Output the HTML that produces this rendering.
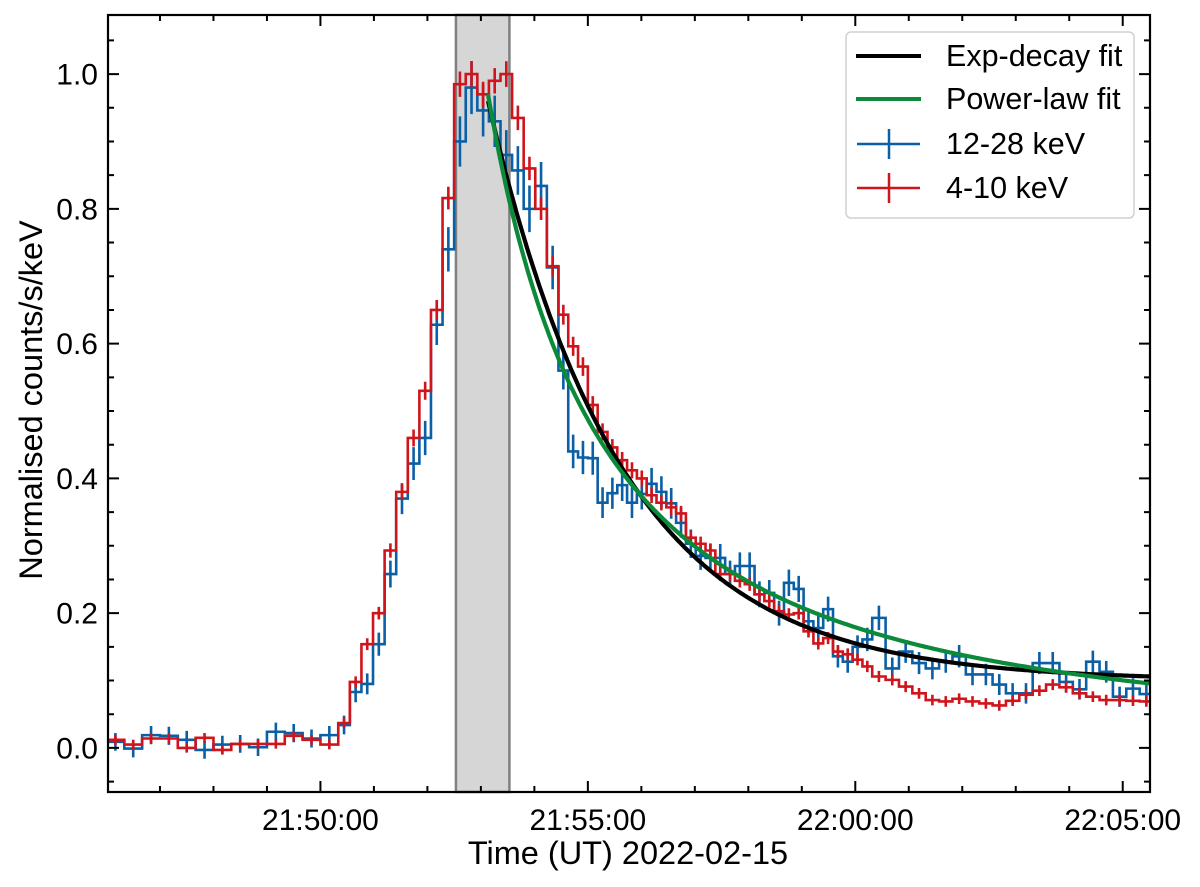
<!DOCTYPE html>
<html><head><meta charset="utf-8"><style>
html,body{margin:0;padding:0;background:#fff;}
svg{display:block;font-family:"Liberation Sans",Arial,sans-serif;}
</style></head><body>
<svg id="chart" width="1200" height="887" viewBox="0 0 1200 887" xmlns="http://www.w3.org/2000/svg">
<defs><clipPath id="plotclip"><rect x="108" y="15" width="1042" height="777"/></clipPath></defs>
<g id="span"></g>
<g id="series" clip-path="url(#plotclip)"></g>
<g id="axes"></g>
<g id="legend">
  <rect x="846" y="32" width="288" height="186" rx="5" fill="#fff" fill-opacity="0.85" stroke="#d0d0d0" stroke-width="1.5"/>
  <g>
    <line x1="856" y1="56" x2="921" y2="56" stroke="#000" stroke-width="4"/>
    <text x="946" y="66" font-size="30.5">Exp-decay fit</text></g>
  <g>
    <line x1="856" y1="99" x2="921" y2="99" stroke="#0b8a3a" stroke-width="4"/>
    <text x="946" y="109" font-size="30.5">Power-law fit</text></g>
  <g>
    <line x1="857" y1="144" x2="920" y2="144" stroke="#0b5fa5" stroke-width="2.5"/>
    <line x1="889" y1="129" x2="889" y2="159" stroke="#0b5fa5" stroke-width="2.5"/>
    <text x="946" y="154" font-size="30.5">12-28 keV</text></g>
  <g>
    <line x1="857" y1="188" x2="920" y2="188" stroke="#d0141c" stroke-width="2.5"/>
    <line x1="889" y1="173" x2="889" y2="203" stroke="#d0141c" stroke-width="2.5"/>
    <text x="946" y="198" font-size="30.5">4-10 keV</text></g>
</g>
</svg>
<script>
// bin segments (seconds since 21:46:00)
const segStarts = [0, 260, 507, 859];
const segWidths = [20, 13, 11, 15];
const segCounts = [13, 19, 32, 21];
const redValues = [
 .012,.005,.014,.014,.0,.015,-.003,.006,.006,.006,.018,.012,.005,
 .037,.098,.154,.20,.293,.38,.46,.53,.65,.816,.985,1.0,.97,.99,1.0,.935,.86,.80,.715,
 .643,.596,.566,.509,.469,.446,.427,.412,.40,.375,.364,.357,.348,.312,.303,.293,.258,.258,.248,.243,.228,.218,.203,.198,.2,.173,.155,.163,.143,.139,.131,.121,
 .106,.101,.091,.081,.071,.069,.073,.069,.066,.063,.07,.079,.085,.094,.09,.081,.076,.071,.071,.07,.069];
const blueValues = [
 .009,-.001,.019,.018,.012,-.003,.005,.006,.001,.024,.022,.014,.019,
 .034,.083,.095,.154,.258,.37,.422,.46,.628,.74,.90,.98,.946,.93,.88,.857,.80,.834,.713,
 .56,.44,.431,.43,.364,.378,.39,.364,.377,.392,.38,.363,.334,.303,.285,.282,.282,.258,.27,.27,.228,.23,.2,.245,.236,.188,.178,.206,.136,.128,.15,.161,
 .193,.118,.143,.126,.118,.128,.136,.109,.109,.094,.081,.081,.126,.126,.098,.087,.128,.113,.076,.088,.08];
const spanTimes = [392, 452];
const expParams = [0.86, 150, 0.10, 428];   // A, tau, c, t0
const powParams = [0.97, 250, 1.41, 428];   // f(t0), t1, index, t0
const fitEnd = 1175;
const xTickTimes = [240, 540, 840, 1140];
const xTickLabels = ["21:50:00","21:55:00","22:00:00","22:05:00"];
const yTickValues = [0, 0.2, 0.4, 0.6, 0.8, 1.0];
const yTickLabels = ["0.0","0.2","0.4","0.6","0.8","1.0"];

const L=108,R=1150,T=15,B=792;
const tMin=1.7, tMax=1170.6, vMin=-0.0654, vMax=1.0877;
const X=t=>L+(t-tMin)/(tMax-tMin)*(R-L);
const Y=v=>B-(v-vMin)/(vMax-vMin)*(B-T);
const NS="http://www.w3.org/2000/svg";
function mk(tag,attrs,parent){const e=document.createElementNS(NS,tag);for(const k in attrs)e.setAttribute(k,attrs[k]);parent.appendChild(e);return e;}

const sg=document.getElementById('span');
const sr=mk('rect',{x:X(spanTimes[0]),y:T,width:X(spanTimes[1])-X(spanTimes[0]),height:B-T,fill:'#d6d6d6',stroke:'#808080','stroke-width':2.5},sg);



const edges=[];
segStarts.forEach((s,i)=>{for(let k=0;k<segCounts[i];k++)edges.push(s+k*segWidths[i]);});
edges.push(segStarts[3]+segCounts[3]*segWidths[3]);

const ser=document.getElementById('series');
function drawHist(vals,color,errFn,name){
  const g=mk('g',{},ser);
  
  
  let d='M'+X(edges[0])+' '+Y(vals[0]);
  for(let i=0;i<vals.length;i++){
    if(i>0)d+=' V'+Y(vals[i]);
    d+=' H'+X(edges[i+1]);
  }
  const p=mk('path',{d:d,fill:'none',stroke:color,'stroke-width':2.6},g);
  
  
  let ed='';
  for(let i=0;i<vals.length;i++){
    const c=X((edges[i]+edges[i+1])/2),e=errFn(vals[i]);
    ed+='M'+c+' '+Y(vals[i]-e)+' V'+Y(vals[i]+e)+' ';
  }
  const eb=mk('path',{d:ed,fill:'none',stroke:color,'stroke-width':2.6},g);
  
  
}
drawHist(blueValues,'#0b5fa5',v=>0.013+0.027*Math.max(v,0),'series-12-28kev');
drawHist(redValues,'#d0141c',v=>0.007+0.012*Math.max(v,0),'series-4-10kev');

function drawFit(fn,color,name){
  let d='';
  for(let t=expParams[3];t<=fitEnd;t+=2){d+=(d?' L':'M')+X(t).toFixed(1)+' '+Y(fn(t)).toFixed(1);}
  const p=mk('path',{d:d,fill:'none',stroke:color,'stroke-width':4.2},ser);
  
  
}
drawFit(t=>expParams[0]*Math.exp(-(t-expParams[3])/expParams[1])+expParams[2],'#000','exp-decay-fit');
drawFit(t=>powParams[0]*Math.pow((t-powParams[1])/(powParams[3]-powParams[1]),-powParams[2]),'#0b8a3a','power-law-fit');

const ax=document.getElementById('axes');
const fr=mk('rect',{x:L,y:T,width:R-L,height:B-T,fill:'none',stroke:'#000','stroke-width':2.2},ax);


let td='';
for(let t=60;t<tMax;t+=60){const x=X(t),maj=(t%300===240);const l=maj?11:6;td+=`M${x} ${B} V${B-l} M${x} ${T} V${T+l} `;}
for(let v=-0.05;v<vMax;v+=0.05){const vv=Math.round(v*100)/100;const y=Y(vv);const maj=Math.round(vv*100)%20===0;const l=maj?11:6;td+=`M${L} ${y} H${L+l} M${R} ${y} H${R-l} `;}
const tk=mk('path',{d:td,stroke:'#000','stroke-width':2,fill:'none'},ax);


xTickTimes.forEach((t,i)=>{
  const e=mk('text',{x:X(t),y:830,'font-size':30,'text-anchor':'middle'},ax);
  e.textContent=xTickLabels[i];
  
  
});
yTickValues.forEach((v,i)=>{
  const e=mk('text',{x:98,y:Y(v)+10.5,'font-size':30,'text-anchor':'end'},ax);
  e.textContent=yTickLabels[i];
  
  
});
const xt=mk('text',{x:628,y:864,'font-size':32.5,'text-anchor':'middle'},ax);
xt.textContent='Time (UT) 2022-02-15';


const yt=mk('text',{x:0,y:0,'font-size':32.5,'text-anchor':'middle',transform:'translate(42,400) rotate(-90)'},ax);
yt.textContent='Normalised counts/s/keV';


</script>
</body></html>
